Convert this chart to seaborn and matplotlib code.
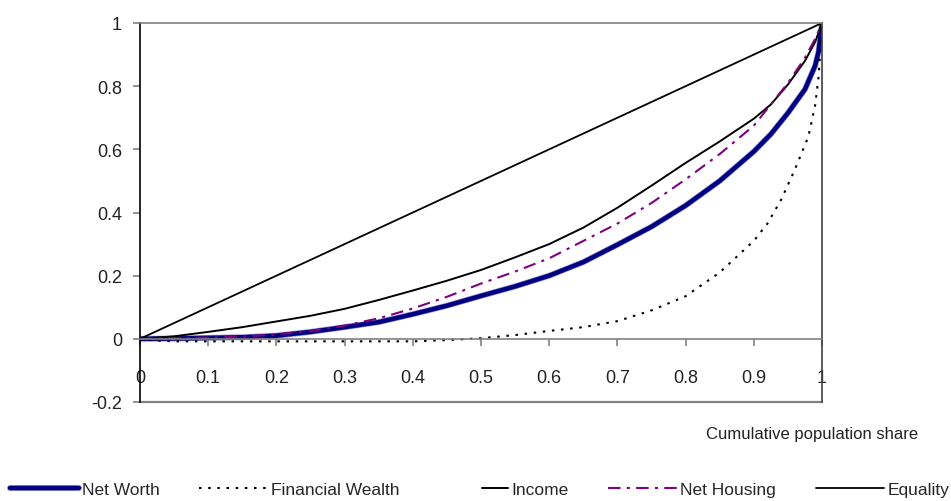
import matplotlib
matplotlib.use("Agg")
import matplotlib.pyplot as plt
import matplotlib.patheffects as pe
from matplotlib.legend_handler import HandlerLine2D
import seaborn as sns

sns.set_theme(style="white")
plt.rcParams["font.family"] = ["Liberation Sans Narrow", "Liberation Sans", "DejaVu Sans"]

# ---- data ----
share = [0, 0.05, 0.1, 0.15, 0.2, 0.25, 0.3, 0.35, 0.4, 0.45, 0.5, 0.55,
         0.6, 0.65, 0.7, 0.75, 0.8, 0.85, 0.9, 0.925, 0.95, 0.975, 0.99, 0.995, 1.0]
net_worth = [0, 0.001, 0.003, 0.005, 0.01, 0.022, 0.037, 0.053, 0.078, 0.105, 0.136, 0.166,
             0.200, 0.243, 0.298, 0.355, 0.422, 0.500, 0.593, 0.648, 0.715, 0.79, 0.865,
             0.91, 1.0]
net_housing = [0, 0.002, 0.004, 0.007, 0.014, 0.025, 0.042, 0.065, 0.096, 0.133, 0.175, 0.213,
               0.255, 0.31, 0.365, 0.43, 0.505, 0.585, 0.675, 0.742, 0.81, 0.89, 0.95,
               0.975, 1.0]
income = [0, 0.008, 0.022, 0.037, 0.055, 0.073, 0.095, 0.123, 0.153, 0.184, 0.218, 0.258,
          0.300, 0.352, 0.415, 0.485, 0.557, 0.625, 0.697, 0.742, 0.805, 0.88, 0.94,
          0.97, 1.0]
fw_share = [0, 0.02, 0.05, 0.1, 0.2, 0.3, 0.4, 0.45, 0.5, 0.55, 0.6, 0.65, 0.7, 0.75,
            0.8, 0.85, 0.9, 0.92, 0.94, 0.96, 0.98, 0.99, 0.995, 1.0]
financial_wealth = [0, -0.005, -0.008, -0.008, -0.008, -0.008, -0.008, -0.004, 0.002, 0.012,
                    0.025, 0.037, 0.056, 0.09, 0.135, 0.21, 0.31, 0.365, 0.44, 0.535, 0.64,
                    0.74, 0.83, 1.0]
equality_share = [0, 1]
equality = [0, 1]

x_ticks = [0, 0.1, 0.2, 0.3, 0.4, 0.5, 0.6, 0.7, 0.8, 0.9, 1]
x_labels = ["0", "0.1", "0.2", "0.3", "0.4", "0.5", "0.6", "0.7", "0.8", "0.9", "1"]
y_ticks = [-0.2, 0, 0.2, 0.4, 0.6, 0.8, 1]
y_labels = ["-0.2", "0", "0.2", "0.4", "0.6", "0.8", "1"]

FS = 13
fig = plt.figure(figsize=(9.51, 5.02), dpi=100)
ax = fig.add_axes([140 / 951, 1 - 403 / 502, (822 - 140) / 951, (403 - 24) / 502])

sns.lineplot(x=share, y=net_worth, ax=ax, color="#000080", lw=3.2, sort=False,
             estimator=None, label="Net Worth",
             path_effects=[pe.Stroke(linewidth=4.2, foreground="#8c8cc8"), pe.Normal()])
sns.lineplot(x=fw_share, y=financial_wealth, ax=ax, color="black", lw=1.5, sort=False,
             estimator=None, label="Financial Wealth", linestyle=(0, (1.2, 3.2)))
sns.lineplot(x=share, y=income, ax=ax, color="black", lw=1.4, sort=False,
             estimator=None, label="Income")
sns.lineplot(x=share, y=net_housing, ax=ax, color="#800080", lw=1.5, sort=False,
             estimator=None, label="Net Housing", linestyle=(0, (6, 3, 1.5, 3)))
sns.lineplot(x=equality_share, y=equality, ax=ax, color="black", lw=1.3, sort=False,
             estimator=None, label="Equality")

ax.set_xlim(0, 1)
ax.set_ylim(-0.2, 1)
ax.set_xticks(x_ticks)
ax.set_xticklabels(x_labels)
ax.set_yticks(y_ticks)
ax.set_yticklabels(y_labels)
ax.set_xlabel("")
ax.set_ylabel("")

ax.spines["bottom"].set_position(("data", 0))
ax.spines["bottom"].set_color("#808080")
ax.spines["top"].set_color("#808080")
ax.spines["left"].set_color("black")
ax.spines["right"].set_color("#404040")
for s in ax.spines.values():
    s.set_linewidth(1.2)
    s.set_visible(True)
ax.axhline(-0.2, color="#808080", lw=1.6, clip_on=False)

ax.tick_params(axis="x", direction="out", length=5, width=1.2, color="#808080",
               pad=17, labelsize=FS, labelcolor="#222222", bottom=True)
ax.tick_params(axis="y", direction="out", length=5, width=1.2, color="#808080",
               pad=8, labelsize=FS, labelcolor="#222222", left=True)

fig.text(918 / 951, 1 - 435 / 502, "Cumulative population share", ha="right",
         va="center", fontsize=FS - 1, color="#222222")


class ShortLine(HandlerLine2D):
    """Legend line drawn only over the right part of the handle box."""
    def get_xdata(self, legend, xdescent, ydescent, width, height, fontsize):
        xdata, xmark = super().get_xdata(legend, xdescent, ydescent, width, height, fontsize)
        start = -xdescent + 0.62 * width
        return [start, -xdescent + width], xmark


ax.get_legend().remove()
handles, labels = ax.get_legend_handles_labels()
fig.legend(handles, labels, loc="center left", bbox_to_anchor=(10 / 951, 1 - 490 / 502),
           ncol=5, frameon=False, fontsize=12.5, handlelength=3.95, handletextpad=0.18,
           columnspacing=2.3, borderaxespad=0, borderpad=0,
           handler_map={handles[2]: ShortLine()})

fig.savefig("out.png", dpi=100, facecolor="white")
